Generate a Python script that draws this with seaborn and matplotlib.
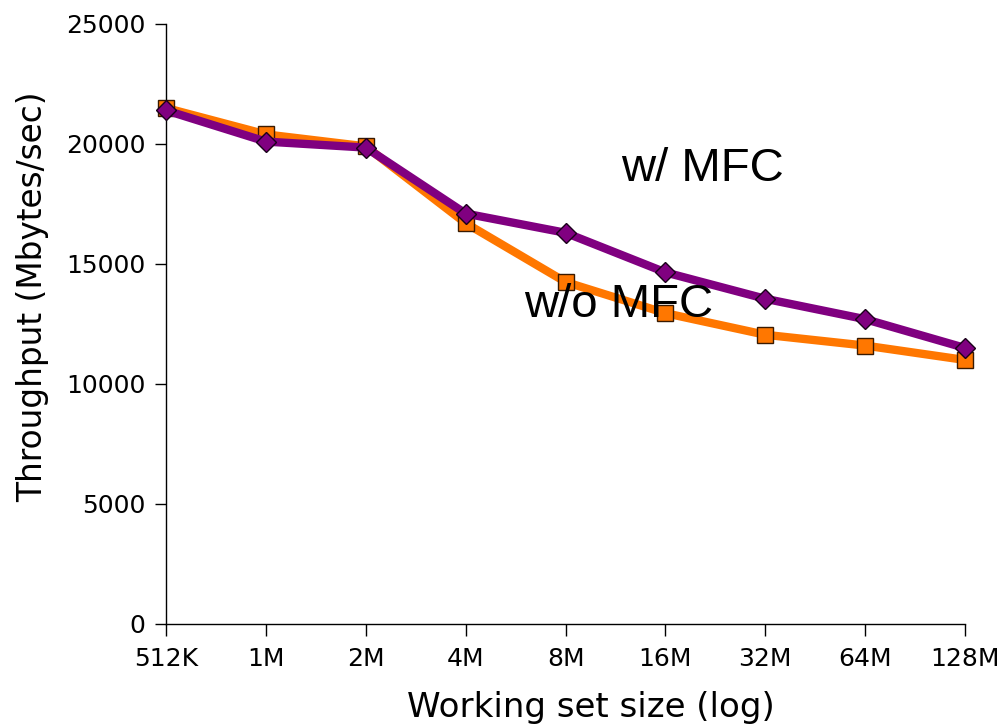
import numpy as np
import pandas as pd
import matplotlib
matplotlib.use("Agg")
import matplotlib.pyplot as plt
import seaborn as sns

sizes = ["512K", "1M", "2M", "4M", "8M", "16M", "32M", "64M", "128M"]
without_mfc = [21500, 20400, 19900, 16700, 14250, 12950, 12050, 11600, 11000]
with_mfc = [21400, 20100, 19850, 17100, 16300, 14650, 13550, 12700, 11500]
y_ticks = [0, 5000, 10000, 15000, 20000, 25000]

sns.set_style("white")
plt.rcParams["font.family"] = ["DejaVu Sans"]
plt.rcParams["text.color"] = "black"
plt.rcParams["axes.labelcolor"] = "black"

pos = np.arange(len(sizes))
df_wo = pd.DataFrame({"pos": pos, "throughput": without_mfc})
df_w = pd.DataFrame({"pos": pos, "throughput": with_mfc})

fig = plt.figure(figsize=(10.02, 7.27), dpi=100)
ax = fig.add_axes([0.1657, 0.1417, 0.7975, 0.8253])

sns.lineplot(data=df_wo, x="pos", y="throughput", ax=ax, color="#FF7700",
             linewidth=6, marker="s", markersize=11,
             markerfacecolor="#FF7700", markeredgecolor="#3a1a00",
             markeredgewidth=1.0, zorder=2)
sns.lineplot(data=df_w, x="pos", y="throughput", ax=ax, color="#800080",
             linewidth=6, marker="D", markersize=10,
             markerfacecolor="#800080", markeredgecolor="#1a001a",
             markeredgewidth=1.0, zorder=3)

ax.set_xlim(0, len(sizes) - 1)
ax.set_ylim(0, 25000)
ax.set_xticks(pos)
ax.set_xticklabels(sizes)
ax.set_yticks(y_ticks)
ax.tick_params(axis="both", labelsize=18, direction="out", colors="black",
               labelcolor="black", bottom=True, left=True)
ax.tick_params(axis="y", length=8, width=1, pad=7)
ax.tick_params(axis="x", length=8.5, width=1, pad=8)

for side in ["top", "right"]:
    ax.spines[side].set_visible(False)
for side in ["left", "bottom"]:
    ax.spines[side].set_color("black")
    ax.spines[side].set_linewidth(1)

ax.set_xlabel("Working set size (log)", fontsize=24.5)
ax.set_ylabel("Throughput (Mbytes/sec)", fontsize=23.6)
ax.xaxis.set_label_coords(0.532, -0.14)
ax.xaxis.label.set_va("center")
ax.yaxis.set_label_coords(-0.1665, 0.545)
ax.yaxis.label.set_va("center")

ax.text(4.556, 18460, "w/ MFC", fontsize=34, ha="left", va="baseline",
        family=["Liberation Sans", "DejaVu Sans"])
ax.text(3.585, 12800, "w/o MFC", fontsize=34, ha="left", va="baseline",
        family=["Liberation Sans", "DejaVu Sans"], zorder=4)

for line in ax.get_lines():
    line.set_clip_on(False)

fig.savefig("out.png", dpi=100)
